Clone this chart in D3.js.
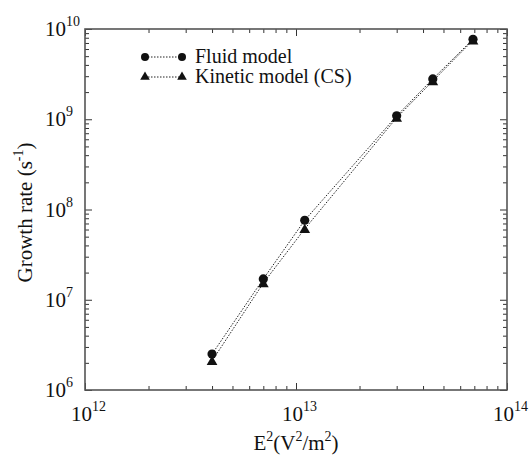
<!DOCTYPE html>
<html>
<head>
<meta charset="utf-8">
<script src="https://cdn.jsdelivr.net/npm/d3@7"></script>
<style>
  body { margin: 0; background: #fff; }
  svg, text, tspan { font-family: "Liberation Serif", "DejaVu Serif", serif; }
  text { fill: #111; }
</style>
</head>
<body>
<div id="chart"></div>
<script>
// data
var e2 = [4.0e12, 7.0e12, 1.1e13, 3.0e13, 4.45e13, 6.9e13];
var fluid = [2.5e6, 1.7e7, 7.6e7, 1.09e9, 2.8e9, 7.7e9];
var kinetic = [2.1e6, 1.53e7, 6.1e7, 1.04e9, 2.65e9, 7.5e9];
var xDecades = [12, 13, 14];
var yDecades = [6, 7, 8, 9, 10];
var seriesNames = ["Fluid model", "Kinetic model (CS)"];

var margin = {top: 29, right: 23, bottom: 76, left: 85},
    width = 530 - margin.left - margin.right,
    height = 466 - margin.top - margin.bottom;

var svg = d3.select("#chart")
  .append("svg")
    .attr("width", 530)
    .attr("height", 466)
    .attr("font-family", "Liberation Serif, serif")
  .append("g")
    .attr("transform", "translate(" + margin.left + "," + margin.top + ")");

var x = d3.scaleLog().domain([1e12, 1e14]).range([0, width]);
var y = d3.scaleLog().domain([1e6, 1e10]).range([height, 0]);

// minor tick values 2..9 for each decade
function minors(decs) {
  var out = [];
  decs.slice(0, -1).forEach(function(d) {
    for (var k = 2; k <= 9; k++) out.push(k * Math.pow(10, d));
  });
  return out;
}
var xMajor = xDecades.map(function(d) { return Math.pow(10, d); });
var yMajor = yDecades.map(function(d) { return Math.pow(10, d); });

function tickAxis(axis, vals, size, transform) {
  var g = svg.append("g")
    .attr("transform", transform)
    .call(axis.tickValues(vals).tickSize(size).tickSizeOuter(0).tickFormat(""));
  g.select(".domain").remove();
  g.selectAll("line").attr("stroke", "#333").attr("stroke-width", 1);
}
// inward ticks on all four sides
tickAxis(d3.axisBottom(x), xMajor, -7, "translate(0," + height + ")");
tickAxis(d3.axisBottom(x), minors(xDecades), -4, "translate(0," + height + ")");
tickAxis(d3.axisTop(x), xMajor, -7, "translate(0,0)");
tickAxis(d3.axisTop(x), minors(xDecades), -4, "translate(0,0)");
tickAxis(d3.axisLeft(y), yMajor, -7, "translate(0,0)");
tickAxis(d3.axisLeft(y), minors(yDecades), -4, "translate(0,0)");
tickAxis(d3.axisRight(y), yMajor, -7, "translate(" + width + ",0)");
tickAxis(d3.axisRight(y), minors(yDecades), -4, "translate(" + width + ",0)");

// frame
svg.append("rect")
  .attr("width", width).attr("height", height)
  .attr("fill", "none").attr("stroke", "#555").attr("stroke-width", 1.6);

// tick labels with superscript
xDecades.forEach(function(d) {
  var t = svg.append("text")
    .attr("x", x(Math.pow(10, d)) - 14)
    .attr("y", height + 31)
    .style("font-size", "21px");
  t.append("tspan").text("10");
  t.append("tspan").attr("dy", -10).style("font-size", "14px").text(d);
});
yDecades.forEach(function(d) {
  var t = svg.append("text")
    .attr("x", -40)
    .attr("y", y(Math.pow(10, d)) + 7)
    .style("font-size", "21px");
  t.append("tspan").text("10");
  t.append("tspan").attr("dy", -10).style("font-size", "14px").text(d);
});

// axis titles
var xt = svg.append("text")
  .attr("x", x(1e13)).attr("y", height + 60)
  .attr("text-anchor", "middle")
  .style("font-size", "21px");
xt.append("tspan").text("E");
xt.append("tspan").attr("dy", -9).style("font-size", "14px").text("2");
xt.append("tspan").attr("dy", 9).text("(V");
xt.append("tspan").attr("dy", -9).style("font-size", "14px").text("2");
xt.append("tspan").attr("dy", 9).text("/m");
xt.append("tspan").attr("dy", -9).style("font-size", "14px").text("2");
xt.append("tspan").attr("dy", 9).text(")");

var yt = svg.append("text")
  .attr("transform", "translate(" + (-53) + "," + (height / 2 + 3) + ") rotate(-90)")
  .attr("text-anchor", "middle")
  .style("font-size", "21px");
yt.append("tspan").text("Growth rate (s");
yt.append("tspan").attr("dy", -9).style("font-size", "14px").text("-1");
yt.append("tspan").attr("dy", 9).text(")");

// series
var line = d3.line()
  .x(function(d) { return x(d[0]); })
  .y(function(d) { return y(d[1]); });
var fluidPts = d3.zip(e2, fluid);
var kinPts = d3.zip(e2, kinetic);

[fluidPts, kinPts].forEach(function(pts) {
  svg.append("path")
    .datum(pts)
    .attr("d", line)
    .attr("fill", "none")
    .attr("stroke", "#222")
    .attr("stroke-width", 1)
    .attr("stroke-dasharray", "1.5,1.5");
});

var tri = d3.symbol().type(d3.symbolTriangle).size(50);

svg.selectAll(".kin")
  .data(kinPts)
  .enter().append("path")
    .attr("class", "kin")
    .attr("d", tri)
    .attr("transform", function(d) { return "translate(" + x(d[0]) + "," + (y(d[1]) + 1) + ")"; })
    .attr("fill", "#111");

svg.selectAll(".fl")
  .data(fluidPts)
  .enter().append("circle")
    .attr("class", "fl")
    .attr("cx", function(d) { return x(d[0]); })
    .attr("cy", function(d) { return y(d[1]); })
    .attr("r", 4.6)
    .attr("fill", "#111");

// legend
var leg = svg.append("g").attr("transform", "translate(60,28)");
[0, 1].forEach(function(i) {
  var row = leg.append("g").attr("transform", "translate(0," + (i * 20) + ")");
  row.append("line")
    .attr("x1", 0).attr("x2", 37).attr("y1", 0).attr("y2", 0)
    .attr("stroke", "#222").attr("stroke-width", 1)
    .attr("stroke-dasharray", "1.5,1.5");
  if (i === 0) {
    row.selectAll("circle").data([0, 37]).enter().append("circle")
      .attr("cx", function(d) { return d; }).attr("r", 4).attr("fill", "#111");
  } else {
    row.selectAll("path").data([0, 37]).enter().append("path")
      .attr("d", d3.symbol().type(d3.symbolTriangle).size(40))
      .attr("transform", function(d) { return "translate(" + d + ",0)"; })
      .attr("fill", "#111");
  }
  row.append("text")
    .attr("x", 50).attr("y", 6)
    .style("font-size", "20px")
    .text(seriesNames[i]);
});
</script>
</body>
</html>
